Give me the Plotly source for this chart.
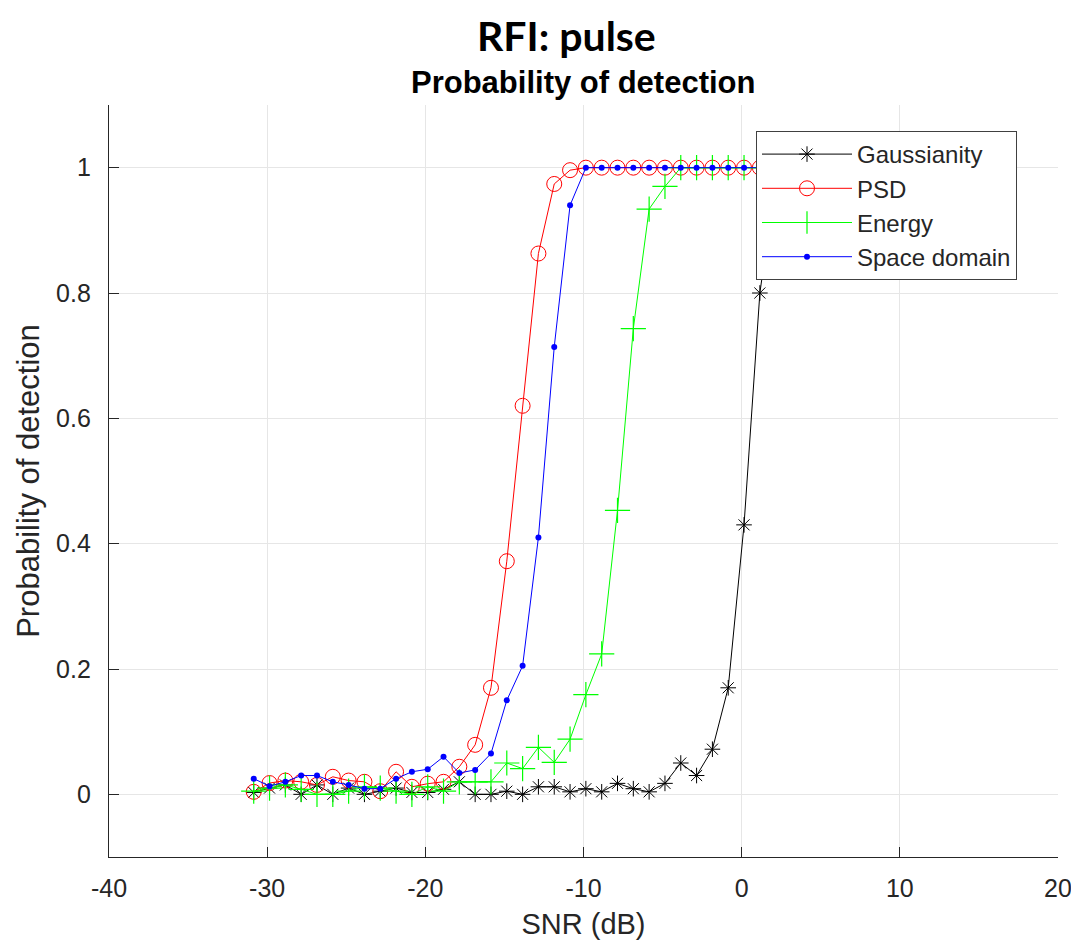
import plotly.graph_objects as go

snr_db = [-30.85, -29.85, -28.85, -27.85, -26.85, -25.85, -24.85, -23.85, -22.85, -21.85,
          -20.85, -19.85, -18.85, -17.85, -16.85, -15.85, -14.85, -13.85, -12.85, -11.85,
          -10.85, -9.85, -8.85, -7.85, -6.85, -5.85, -4.85, -3.85, -2.85, -1.85,
          -0.85, 0.15, 1.15, 2.15]

gaussianity = [0.003, 0.010, 0.015, 0.000, 0.015, 0.000, 0.010, 0.000, 0.005, 0.010,
               0.003, 0.003, 0.008, 0.020, 0.000, 0.000, 0.005, 0.000, 0.012, 0.012,
               0.004, 0.009, 0.004, 0.0175, 0.009, 0.004, 0.0175, 0.050, 0.030, 0.072,
               0.170, 0.430, 0.800, 0.980]

psd = [0.004, 0.018, 0.022, 0.020, 0.015, 0.028, 0.022, 0.020, 0.005, 0.036,
       0.012, 0.017, 0.020, 0.044, 0.079, 0.170, 0.372, 0.620, 0.863, 0.974,
       0.996, 1.0, 1.0, 1.0, 1.0, 1.0, 1.0, 1.0, 1.0, 1.0,
       1.0, 1.0, 1.0, 1.0]

energy = [0.005, 0.010, 0.015, 0.008, 0.000, 0.000, 0.005, 0.012, 0.010, 0.005,
          0.000, 0.012, 0.005, 0.020, 0.020, 0.020, 0.050, 0.041, 0.075, 0.051,
          0.088, 0.159, 0.224, 0.453, 0.743, 0.934, 0.970, 1.0, 1.0, 1.0,
          1.0, 1.0, 1.0, 1.0]

space_domain = [0.025, 0.013, 0.020, 0.030, 0.030, 0.020, 0.015, 0.009, 0.009, 0.025,
                0.036, 0.040, 0.060, 0.034, 0.039, 0.065, 0.150, 0.205, 0.410, 0.714,
                0.940, 1.0, 1.0, 1.0, 1.0, 1.0, 1.0, 1.0, 1.0, 1.0,
                1.0, 1.0, 1.0, 1.0]

x_ticks = [-40, -30, -20, -10, 0, 10, 20]
x_tick_text = ["-40", "-30", "-20", "-10", "0", "10", "20"]
y_ticks = [0, 0.2, 0.4, 0.6, 0.8, 1]
y_tick_text = ["0", "0.2", "0.4", "0.6", "0.8", "1"]

FONT = "Liberation Sans, Arial, sans-serif"
TXT = "#262626"

# the page body has an 8px default margin, so the figure is offset by 8px
FIG_W, FIG_H = 1071, 938
L, T = 101, 97
R = FIG_W - 1050
B = FIG_H - 849


def px(sx):
    return (sx - 109) / 949


def py(sy):
    return (857 - sy) / 752


fig = go.Figure()
fig.add_trace(go.Scatter(
    x=snr_db, y=gaussianity, name="Gaussianity", mode="lines+markers",
    line=dict(color="black", width=1),
    marker=dict(symbol="asterisk-open", size=13, color="black", line=dict(color="black", width=1))))
fig.add_trace(go.Scatter(
    x=snr_db, y=psd, name="PSD", mode="lines+markers",
    line=dict(color="#ff0000", width=1),
    marker=dict(symbol="circle-open", size=15, color="#ff0000", line=dict(color="#ff0000", width=1))))
fig.add_trace(go.Scatter(
    x=snr_db, y=energy, name="Energy", mode="lines+markers",
    line=dict(color="#00ff00", width=1),
    marker=dict(symbol="cross-thin-open", size=18, color="#00ff00", line=dict(color="#00ff00", width=1.2))))
fig.add_trace(go.Scatter(
    x=snr_db, y=space_domain, name="Space domain", mode="lines+markers",
    line=dict(color="#0000ff", width=1),
    marker=dict(symbol="circle", size=6, color="#0000ff")))

fig.update_layout(
    width=FIG_W, height=FIG_H,
    margin=dict(l=L, r=R, t=T, b=B, autoexpand=False),
    paper_bgcolor="white", plot_bgcolor="white",
    font=dict(family=FONT, color=TXT, size=26),
    showlegend=True,
    legend=dict(
        x=px(756), y=py(131), xanchor="left", yanchor="top",
        bgcolor="white", bordercolor="#404040", borderwidth=1,
        font=dict(family=FONT, size=24, color=TXT),
        itemwidth=90, tracegroupgap=0),
    xaxis=dict(
        range=[-40, 20], tickvals=x_ticks, ticktext=x_tick_text, ticks="inside", ticklen=10,
        tickcolor=TXT, automargin=False, ticklabeloverflow="allow",
        showline=True, linecolor=TXT, linewidth=1.3, mirror=False,
        showgrid=True, gridcolor="#e6e6e6", gridwidth=1, zeroline=False,
        tickfont=dict(size=25, color=TXT), ticklabelstandoff=9,
        title=dict(text="SNR (dB)", font=dict(size=29, color=TXT), standoff=12)),
    yaxis=dict(
        range=[-0.1, 1.1], tickvals=y_ticks, ticktext=y_tick_text, ticks="inside", ticklen=10,
        tickcolor=TXT, automargin=False, showline=True, linecolor=TXT, linewidth=1.3, mirror=False,
        showgrid=True, gridcolor="#e6e6e6", gridwidth=1, zeroline=False,
        tickfont=dict(size=25, color=TXT), ticklabelstandoff=12,
        title=dict(text="Probability of detection", font=dict(size=31, color=TXT), standoff=7)),
    annotations=[
        dict(text="<b>RFI: pulse</b>", xref="paper", yref="paper",
             x=px(566), y=py(9), xanchor="center", yanchor="top",
             showarrow=False, font=dict(family="Lato, Noto Sans, sans-serif", size=41, color="black")),
        dict(text="<b>Probability of detection</b>", xref="paper", yref="paper",
             x=px(583), y=py(82), xanchor="center", yanchor="middle",
             showarrow=False, font=dict(family=FONT, size=31, color="black")),
    ],
)

fig.write_html("out.html")
